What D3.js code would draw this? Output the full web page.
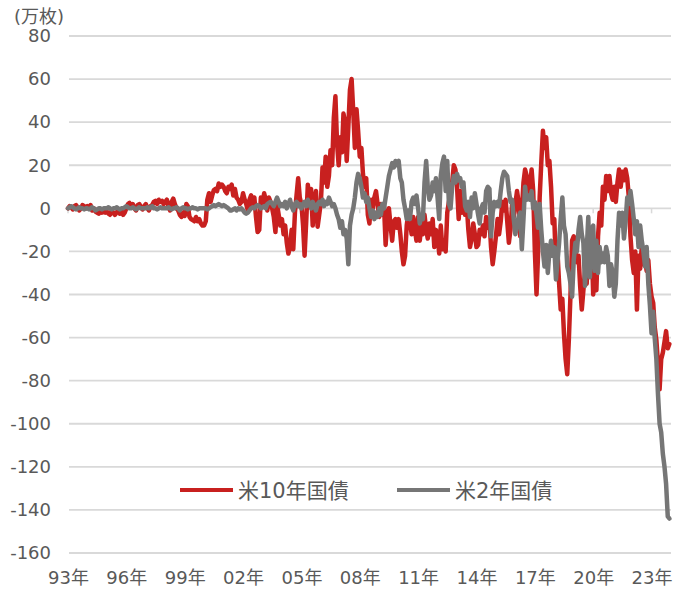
<!DOCTYPE html>
<html lang="ja">
<head>
<meta charset="UTF-8">
<title>米国債 投機筋ポジション</title>
<script src="https://d3js.org/d3.v7.min.js"></script>
<style>
  body { margin: 0; background: #fff; }
  text { font-family: "DejaVu Sans", "Noto Sans CJK JP", sans-serif; fill: #595959; }
</style>
</head>
<body>
<div id="chart"></div>
<script>
// monthly readings, Jan 1993 .. Dec 2023 (one row per year)
const tenYear = [
  0, 1, 0.5, -0.5, 1, 1.5, 0.5, -1, 0, 1.5, 1, 0,
  1, 0.5, 1.5, -1, 0, -1.5, -2, -2.5, -1, -2, -1.5, -2,
  -1.5, -2.5, -3, -1, -2, -3, -2, -1, -2.5, -1.5, -3, -2,
  0, 2, 2.5, 1, 2, 0, -1, 1.5, 2, 0.5, -0.5, 1,
  2, 0, -1, 1, 1.5, 3, 3.5, 2, 4, 3, 3.5, 2,
  3, 4, 1, -1, 3, 4.5, 2, 0, -1, -3, -4, -2,
  -3.5, 2, 1, -4, -5, -5.5, -6, -4, -6, -5, -7, -8,
  -8, -6, 4, 7, 3, 6, 8.5, 9, 8, 11.5, 10, 11,
  10, 8, 7, 10, 9, 11, 6, 9, 5, 4, 2, 3,
  7, 4, 2, -1, 4, 6, 1, 5, -4, -11, -10, 5,
  2, 7, 4, -1, 5, 3, 0, -4, -11, 2, -3, -8,
  -5, -12, -8, -16, -21, -18, -10, -19, -2, 6, 14, 5,
  2, -8, -22, -6, 11, 4, 9, -8, 3, 8, -8.5, -3,
  3, 19, 12, 24, 10, 15, 27, 20, 42, 52, 30, 20,
  33, 26, 44, 40, 22, 38, 55, 60, 45, 28, 46, 36,
  24, 28, 16, 10, 14, -3, -7, 4, 0, 5, 8, 2,
  -4, 2, -3, 1, -17, -5, 0, -8, -15, -6, -5, -9,
  -5, -12, -20, -26, -22, -8, -2, -6, -12, -4, -10, -15,
  -4, -15, -8, -12, -3, -10, -14, -7, -12, -5, -18, -10,
  -13, -21, -8, -19, -15, -20, -2, 3, 7, 12, 20, 18,
  10, -5, 8, -2, 1, -3, 2, -10, -18, -14, -7, -12,
  -18, -17, -10, -12, -8, -13, -4, -9, -5, -18, -26, -20,
  -13, -5, -12, -6, 3, -1, 4, -6, -16, -10, 2, -4,
  2, 8, 3, -13, -2, 12, 18, 15, 5, 10, 18, 8,
  -20, -40, -22, 5, 21, 36, 28, 33, 20, 22, 10, -7,
  -5, -27, -20, -35, -47, -42, -58, -70, -77, -61, -40, -15,
  -13, -20, -25, -22, -36, -47, -38, -29, -35, -13, -18, -15,
  -40, -32, -38, -13, -2, -8, 10, 4, 15, 8, 15, 7,
  4, 10, 3, 12, 18, 10, 17, 13, 18, 14, 5, -13,
  -24, -30, -20, -47, -22, -28, -18, -26, -24, -29, -24, -35,
  -41, -44, -55, -61, -72, -84, -70, -67, -62, -57, -65, -63
];

const twoYear = [
  0, 0.5, 1, 0.5, 0, -0.5, 0, 0.5, 0, 0, -0.5, 0,
  0, -0.5, 0, 0.5, 0, -1, -0.5, 0, 0, -0.5, 0, 0,
  0, 0.5, 0, -0.5, 0, 0, 0.5, 0, -0.5, 0, 0, 0.5,
  1, 0.5, 0, 0, 0.5, 0, -0.5, 0, 0.5, 0, 0, 0,
  0, 0.5, 0, 0.5, 1, 0, 0, -0.5, 0, 0.5, 0, 0,
  0, 0, 0.5, 0, -0.5, 0, 0, 0.5, 0, -1, 0, 0.5,
  0, 0, -0.5, 0, 0, 0.5, 0, 0, -0.5, 0, 0, 0,
  0, 0, -0.5, 0, 0.5, 1, 1.5, 1, 1.5, 2, 1.5, 1,
  1.5, 1, 0.5, 0, -1, -1, -0.5, 0, -1, 0, -0.5, 0,
  -1, -2, -2.5, -2, -1, 0, 0.5, 0, 1, 1.5, 1, 0,
  0.5, 1, 0, 2, 2.5, 3, 2, 1, 3, 5, 3, 1,
  2, 1, 3, 0, 2, 4, 1, -1, 2, 3, 1, 2,
  0, 2, 3, 1, 4, 2, 0, 3, 1, -1, 2, 3,
  2, 4, 1, 3, 2, 5, 3, 1, 2, 0, -3, -5,
  -9, -6, -12, -10, -14, -26, -8, -3, 0, 5, 12, 16,
  14, 10, 5, 7, 3, 5, 0, -4, -1, -5, -2, -4,
  0, -3, 2, 0, 5, 10, 15, 18, 21, 19, 22, 20,
  22, 14, 12, 4, 0, -5, -1, -5, 3, 5, 2, 6,
  0, -7, -3, -5, 12, 22, 10, 4, 6, 12, 8, 14,
  5, -5, 15, 21, 24, 8, 22, 2, 0, 10, 15, 12,
  16, 13, 14, 10, 12, 1, -1, 3, -4, 5, 0, 7,
  2, -3, -7, 0, 2, -2, 8, 10, 9, -13, -2, 3,
  1, 3, 1, 8, 14, 17, 16, 15, 8, 3, 4, -5,
  -12, -8, -4, -2, -19, -5, 10, 4, 6, 4, 8, 0,
  3, -3, -9, 2, -10, -20, -27, -17, -30, -20, -15, -22,
  -18, -33, -25, -16, -5, 5, -8, -12, -27, -30, -35, -41,
  -24, -16, -20, -10, -4, -12, -16, -36, -20, -4, -32, -10,
  -8, -29, -15, -30, -18, -25, -21, -25, -18, -22, -36, -26,
  -30, -41, -35, -15, -2, -8, -2, -14, -6, 5, 2, 8,
  2, -5, -12, -6, -18, -8, -15, -20, -27, -18, -35, -45,
  -58, -48, -60, -70, -86, -100, -104, -114, -120, -128, -143, -144
];

const yTicks = [80, 60, 40, 20, 0, -20, -40, -60, -80, -100, -120, -140, -160];
const xTickYears = [1993, 1996, 1999, 2002, 2005, 2008, 2011, 2014, 2017, 2020, 2023];
const seriesNames = ["米10年国債", "米2年国債"];
const seriesColors = ["#C8201F", "#767676"];

const width = 684, height = 593;
const months = d3.timeMonth.range(new Date(1993, 0, 1), new Date(2024, 0, 1));

const x = d3.scaleTime()
  .domain([new Date(1993, 0, 1), new Date(2024, 0, 1)])
  .range([68, 671]);
const y = d3.scaleLinear().domain([-160, 80]).range([553, 36]);

const svg = d3.select("#chart").append("svg")
  .attr("width", width)
  .attr("height", height);

// grid
svg.append("g")
  .selectAll("line")
  .data(yTicks)
  .join("line")
  .attr("x1", 69).attr("x2", 671)
  .attr("y1", d => y(d)).attr("y2", d => y(d))
  .attr("stroke", "#d9d9d9")
  .attr("stroke-width", 1.8);

// y axis labels (plain hyphen for negatives)
const yAxis = svg.append("g")
  .attr("transform", "translate(51,0)")
  .call(d3.axisLeft(y).tickValues(yTicks).tickFormat(d => String(d)).tickSize(0).tickPadding(0));
yAxis.select(".domain").remove();
yAxis.selectAll("text")
  .attr("font-size", 18)
  .attr("fill", "#595959")
  .style("font-family", null);

// small tick marks on the zero line
svg.append("g")
  .selectAll("line")
  .data(xTickYears)
  .join("line")
  .attr("x1", d => x(new Date(d, 0, 1))).attr("x2", d => x(new Date(d, 0, 1)))
  .attr("y1", y(0)).attr("y2", y(0) + 5)
  .attr("stroke", "#d9d9d9")
  .attr("stroke-width", 1.5);

// x axis labels
const xAxis = svg.append("g")
  .attr("transform", "translate(0,571)")
  .call(d3.axisBottom(x)
    .tickValues(xTickYears.map(d => new Date(d, 0, 1)))
    .tickFormat(d => String(d.getFullYear()).slice(2) + "年")
    .tickSize(0).tickPadding(0));
xAxis.select(".domain").remove();
xAxis.selectAll("text")
  .attr("font-size", 18)
  .attr("fill", "#595959")
  .style("font-family", null);

// unit label
svg.append("text")
  .attr("x", 14).attr("y", 23)
  .attr("font-size", 18)
  .text("(万枚)");

const line = d3.line()
  .x((d, i) => x(months[i]))
  .y(d => y(d))
  .curve(d3.curveLinear);

[tenYear, twoYear].forEach((vals, k) => {
  svg.append("path")
    .datum(vals)
    .attr("fill", "none")
    .attr("stroke", seriesColors[k])
    .attr("stroke-width", 4.5)
    .attr("stroke-linejoin", "round")
    .attr("stroke-linecap", "round")
    .attr("d", line);
});

// legend
const legendX = [180, 397];
const legend = svg.append("g");
seriesNames.forEach((name, k) => {
  legend.append("line")
    .attr("x1", legendX[k]).attr("x2", legendX[k] + 53)
    .attr("y1", 490).attr("y2", 490)
    .attr("stroke", seriesColors[k])
    .attr("stroke-width", 4);
  legend.append("text")
    .attr("x", legendX[k] + 58).attr("y", 498)
    .attr("font-size", 21)
    .text(name);
});
</script>
</body>
</html>
